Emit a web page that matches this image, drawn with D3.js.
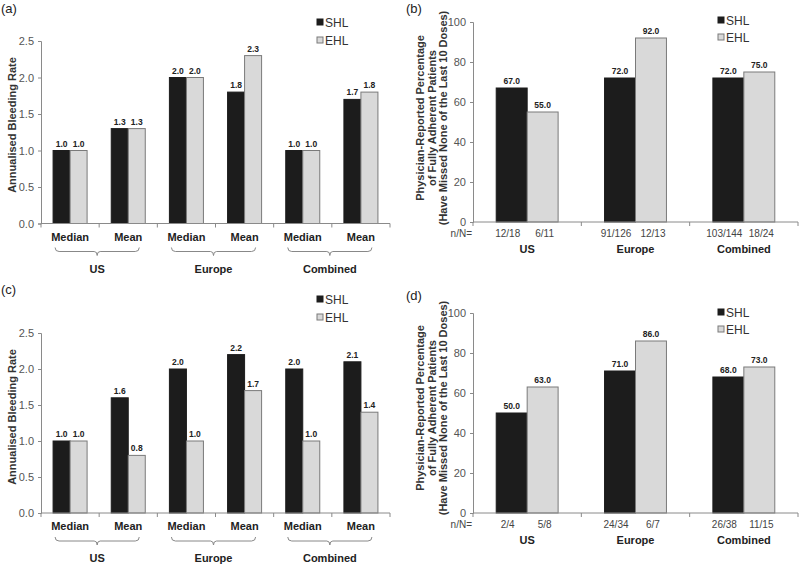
<!DOCTYPE html>
<html>
<head>
<meta charset="utf-8">
<script src="https://cdn.jsdelivr.net/npm/d3@7"></script>
<style>
  body { margin: 0; background: #fff; }
  svg { font-family: "Liberation Sans", Arial, sans-serif; }
</style>
</head>
<body>
<div id="chart"></div>
<script>
// categories
const abrCats = ["US|Median", "US|Mean", "Europe|Median", "Europe|Mean", "Combined|Median", "Combined|Mean"];
const regions = ["US", "Europe", "Combined"];
const series = ["SHL", "EHL"];

// (a) annualised bleeding rate, panel 1
const aSHL = [1.0, 1.3, 2.0, 1.8, 1.0, 1.7];
const aEHL = [1.0, 1.3, 2.0, 2.3, 1.0, 1.8];
// (c) annualised bleeding rate, panel 2
const cSHL = [1.0, 1.6, 2.0, 2.2, 2.0, 2.1];
const cEHL = [1.0, 0.8, 1.0, 1.7, 1.0, 1.4];
// (b) adherence %
const bSHL = [67.0, 72.0, 72.0];
const bEHL = [55.0, 92.0, 75.0];
const bNSHL = ["12/18", "91/126", "103/144"];
const bNEHL = ["6/11", "12/13", "18/24"];
// (d) adherence %
const dSHL = [50.0, 71.0, 68.0];
const dEHL = [63.0, 86.0, 73.0];
const dNSHL = ["2/4", "24/34", "26/38"];
const dNEHL = ["5/8", "6/7", "11/15"];

const abrTicks = [0, 0.5, 1.0, 1.5, 2.0, 2.5];
const pctTicks = [0, 20, 40, 60, 80, 100];

const colors = { SHL: "#1c1c1c", EHL: "#d9d9d9" };

const svg = d3.select("#chart").append("svg")
  .attr("width", 800).attr("height", 565);

function drawPanel(o) {
  const g = svg.append("g");

  const x = d3.scaleBand().domain(o.cats).range([o.x0, o.x1]);
  const inner = d3.scaleBand().domain(series)
    .range([0, x.bandwidth()]).paddingOuter(o.pad);
  const y = d3.scaleLinear().domain(o.yDomain).range([o.y0, o.yTop]);

  // panel letter
  g.append("text").attr("x", o.lx).attr("y", o.ly)
    .attr("font-size", 13).attr("fill", "#222").text(o.letter);

  // bars
  const rows = o.cats.map((c, i) => ({ c, i }));
  series.forEach(s => {
    const vals = s === "SHL" ? o.shl : o.ehl;
    g.selectAll(null).data(rows).enter().append("rect")
      .attr("x", d => x(d.c) + inner(s))
      .attr("y", d => y(vals[d.i]))
      .attr("width", inner.bandwidth())
      .attr("height", d => o.y0 - y(vals[d.i]))
      .attr("fill", colors[s])
      .attr("stroke", s === "SHL" ? "#1c1c1c" : "#7a7a7a")
      .attr("stroke-width", 1);
    g.selectAll(null).data(rows).enter().append("text")
      .attr("x", d => x(d.c) + inner(s) + inner.bandwidth() / 2)
      .attr("y", d => y(vals[d.i]) - 4)
      .attr("text-anchor", "middle")
      .attr("font-size", 8.5).attr("font-weight", "bold").attr("fill", "#222")
      .text(d => vals[d.i].toFixed(1));
  });

  // y axis
  const ya = g.append("g").attr("transform", `translate(${o.x0},0)`)
    .call(d3.axisLeft(y).tickValues(o.ticks).tickSize(3).tickPadding(4)
      .tickFormat(o.fmt));
  ya.select(".domain").attr("stroke", "#8a8a8a");
  ya.selectAll(".tick line").attr("stroke", "#8a8a8a");
  ya.selectAll(".tick text").attr("font-size", 11).attr("fill", "#555")
    .attr("font-family", "Liberation Sans, Arial, sans-serif");

  // x axis line with ticks at band edges
  g.append("line").attr("x1", o.x0).attr("x2", o.x1)
    .attr("y1", o.y0).attr("y2", o.y0).attr("stroke", "#8a8a8a");
  const edges = o.cats.map(c => x(c)).concat([o.x1]);
  g.selectAll(null).data(edges).enter().append("line")
    .attr("x1", d => d).attr("x2", d => d)
    .attr("y1", o.y0).attr("y2", o.y0 + 4).attr("stroke", "#8a8a8a");

  // y axis title
  const yl = g.append("text")
    .attr("transform", `translate(${o.ytx},${o.yty}) rotate(-90)`)
    .attr("text-anchor", "middle").attr("font-size", 11)
    .attr("font-weight", "bold").attr("fill", "#333");
  o.ytitle.forEach((t, i) => {
    yl.append("tspan").attr("x", 0).attr("dy", i === 0 ? 0 : 11.5).text(t);
  });

  // legend
  series.forEach((s, i) => {
    const ly = o.legY + i * o.legGap;
    g.append("rect").attr("x", o.legX).attr("y", ly - 3)
      .attr("width", 6).attr("height", 6)
      .attr("fill", colors[s]).attr("stroke", s === "SHL" ? "#1c1c1c" : "#7a7a7a");
    g.append("text").attr("x", o.legX + 8).attr("y", ly + 4.5)
      .attr("font-size", 12).attr("fill", "#333").text(s);
  });

  o.extra(g, x, inner);
}

function abrExtra(y0) {
  return (g, x, inner) => {
    // Median / Mean labels
    g.selectAll(null).data(abrCats).enter().append("text")
      .attr("x", d => x(d) + x.bandwidth() / 2)
      .attr("y", y0 + 17)
      .attr("text-anchor", "middle").attr("font-size", 11)
      .attr("font-weight", "bold").attr("fill", "#222")
      .text(d => d.split("|")[1]);
    // braces and region labels
    regions.forEach((r, i) => {
      const xa = x(abrCats[i * 2]) + x.bandwidth() / 2 - 15;
      const xb = x(abrCats[i * 2 + 1]) + x.bandwidth() / 2 + 11;
      const xm = (xa + xb) / 2;
      const by = y0 + 28;
      g.append("path")
        .attr("d", `M${xa},${by - 4}Q${xa},${by} ${xa + 4},${by}H${xm - 3}Q${xm},${by} ${xm},${by + 4}Q${xm},${by} ${xm + 3},${by}H${xb - 4}Q${xb},${by} ${xb},${by - 4}`)
        .attr("fill", "none").attr("stroke", "#888").attr("stroke-width", 1);
      g.append("text").attr("x", xm).attr("y", y0 + 49)
        .attr("text-anchor", "middle").attr("font-size", 11)
        .attr("font-weight", "bold").attr("fill", "#222").text(r);
    });
  };
}

function pctExtra(y0, nShl, nEhl) {
  return (g, x, inner) => {
    g.append("text").attr("x", x.range()[0] - 1).attr("y", y0 + 15)
      .attr("text-anchor", "end").attr("font-size", 10).attr("fill", "#444")
      .text("n/N=");
    regions.forEach((r, i) => {
      g.append("text").attr("x", x(r) + inner("SHL") + inner.bandwidth() / 2 - 4)
        .attr("y", y0 + 15).attr("text-anchor", "middle")
        .attr("font-size", 10).attr("fill", "#444").text(nShl[i]);
      g.append("text").attr("x", x(r) + inner("EHL") + inner.bandwidth() / 2 + 2)
        .attr("y", y0 + 15).attr("text-anchor", "middle")
        .attr("font-size", 10).attr("fill", "#444").text(nEhl[i]);
      g.append("text").attr("x", x(r) + x.bandwidth() / 2)
        .attr("y", y0 + 31).attr("text-anchor", "middle")
        .attr("font-size", 11).attr("font-weight", "bold").attr("fill", "#222")
        .text(r);
    });
  };
}

const abrTitle = ["Annualised Bleeding Rate"];
const pctTitle = ["Physician-Reported Percentage", "of Fully Adherent Patients",
  "(Have Missed None of the Last 10 Doses)"];

drawPanel({
  letter: "(a)", lx: 1, ly: 13,
  cats: abrCats, shl: aSHL, ehl: aEHL, pad: 0.71,
  x0: 41, x1: 390, y0: 223.5, yTop: 41, yDomain: [0, 2.5],
  ticks: abrTicks, fmt: d3.format(".1f"),
  ytx: 16, yty: 125, ytitle: abrTitle,
  legX: 317, legY: 22, legGap: 18,
  extra: abrExtra(223.5)
});

drawPanel({
  letter: "(c)", lx: 1, ly: 294,
  cats: abrCats, shl: cSHL, ehl: cEHL, pad: 0.71,
  x0: 41, x1: 390, y0: 513, yTop: 333, yDomain: [0, 2.5],
  ticks: abrTicks, fmt: d3.format(".1f"),
  ytx: 16, yty: 417, ytitle: abrTitle,
  legX: 317, legY: 299, legGap: 18,
  extra: abrExtra(513)
});

drawPanel({
  letter: "(b)", lx: 406, ly: 13,
  cats: regions, shl: bSHL, ehl: bEHL, pad: 0.75,
  x0: 473, x1: 798, y0: 222, yTop: 22, yDomain: [0, 100],
  ticks: pctTicks, fmt: d3.format("d"),
  ytx: 424, yty: 118, ytitle: pctTitle,
  legX: 718, legY: 20, legGap: 17,
  extra: pctExtra(222, bNSHL, bNEHL)
});

drawPanel({
  letter: "(d)", lx: 406, ly: 300,
  cats: regions, shl: dSHL, ehl: dEHL, pad: 0.75,
  x0: 473, x1: 798, y0: 513, yTop: 313, yDomain: [0, 100],
  ticks: pctTicks, fmt: d3.format("d"),
  ytx: 424, yty: 408, ytitle: pctTitle,
  legX: 718, legY: 312, legGap: 17,
  extra: pctExtra(513, dNSHL, dNEHL)
});
</script>
</body>
</html>
